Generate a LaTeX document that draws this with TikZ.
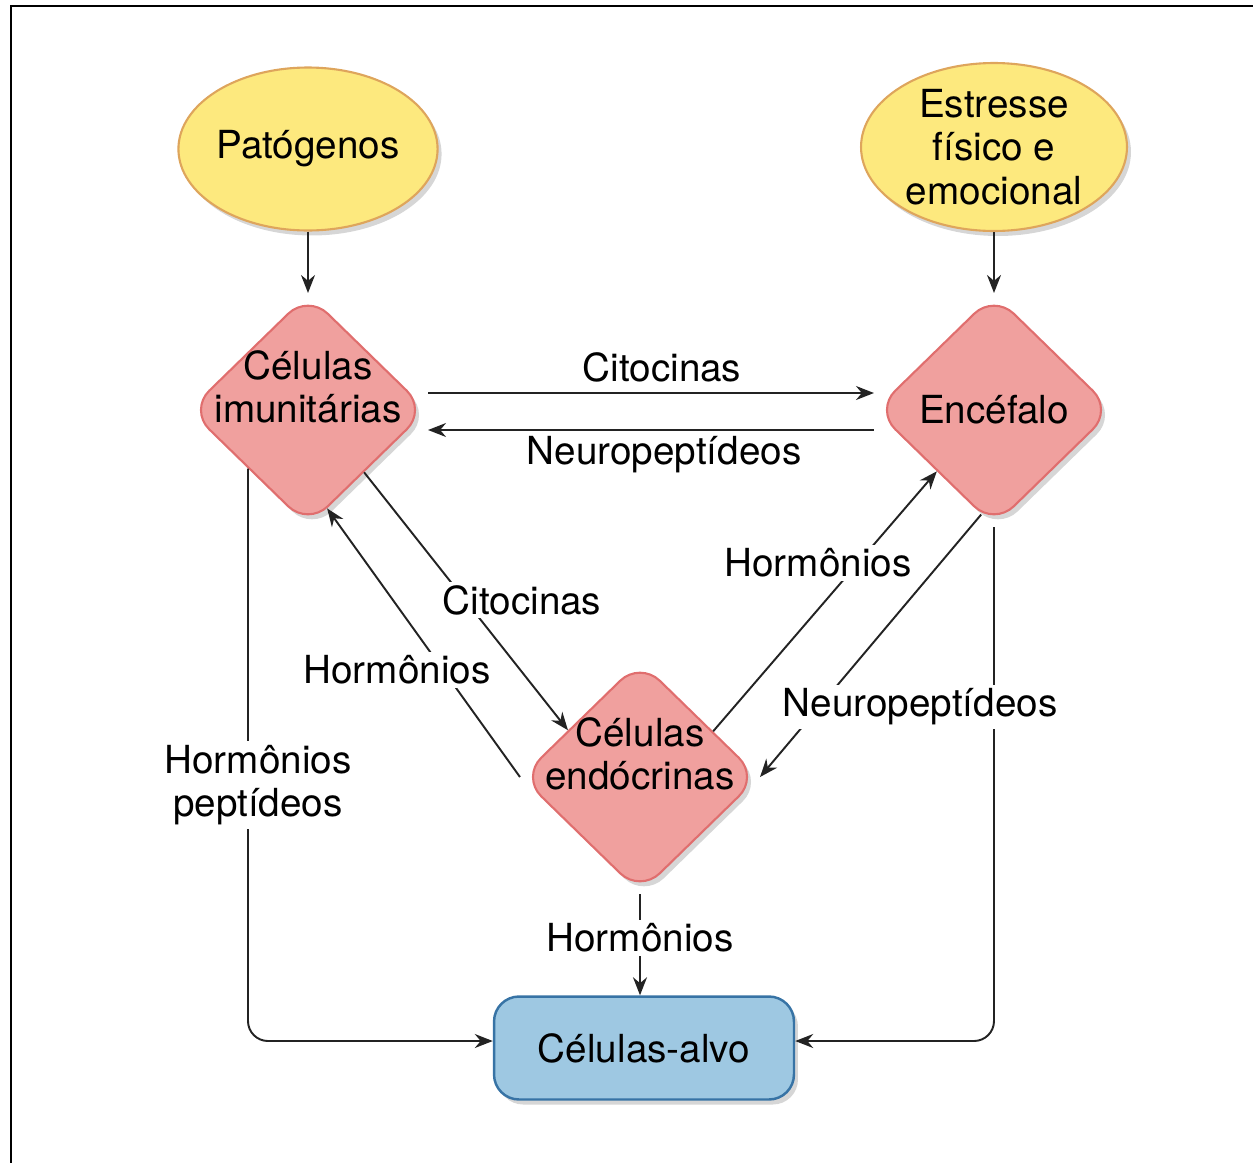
\documentclass[tikz,border=0pt]{standalone}
\usepackage{fontspec}
\setmainfont{TeX Gyre Heros}
\usetikzlibrary{shapes.geometric, arrows.meta, shadows}

\definecolor{jaune}{RGB}{253,233,126}
\definecolor{bordjaune}{RGB}{222,165,92}
\definecolor{rose}{RGB}{240,160,158}
\definecolor{bordrose}{RGB}{224,110,110}
\definecolor{bleu}{RGB}{158,200,226}
\definecolor{bordbleu}{RGB}{55,115,165}
\definecolor{trait}{RGB}{35,35,35}

\begin{document}
\begin{tikzpicture}[x=0.02cm, y=-0.02cm,
    font=\fontsize{22}{24.8}\selectfont,
    ombre/.style={drop shadow={shadow xshift=0.08cm, shadow yshift=-0.1cm, opacity=0.16, fill=black}},
    bulle/.style={ellipse, draw=bordjaune, line width=1.2pt, fill=jaune, inner sep=0pt, align=center, ombre},
    losange/.style={diamond, draw=bordrose, line width=1.2pt, fill=rose, inner sep=0pt,
      minimum width=4.76cm, minimum height=4.64cm, rounded corners=0.55cm, ombre},
    cible/.style={rectangle, draw=bordbleu, line width=1.4pt, fill=bleu, rounded corners=0.5cm,
      minimum width=6cm, minimum height=2.06cm, ombre},
    texte/.style={align=center, inner sep=1pt},
    fleche/.style={draw=trait, line width=1.1pt, -{Stealth[length=0.36cm, width=0.28cm]}},
    etiq/.style={fill=white, inner sep=2pt, align=center}]

  \useasboundingbox (0,0) rectangle (1253,1163);

  % Cadre
  \draw[line width=1.7pt] (1253,6) -- (11,6) -- (11,1163);

  % Causes
  \node[bulle, minimum width=4.96cm, minimum height=3.26cm] (pat) at (308,149) {Patógenos};
  \node[bulle, minimum width=5.32cm, minimum height=3.36cm] (est) at (994,147) {Estresse\\físico e\\emocional};

  % Losanges
  \foreach \nom/\x/\y in {imu/308/410, enc/994/410, endo/640/777}
    \node[losange] (\nom) at (\x,\y) {};
  \node[texte] (imutxt) at ([yshift=0.46cm]imu.center) {Células\\imunitárias};
  \node[texte] (enctxt) at (enc.center) {Encéfalo};
  \node[texte] (endotxt) at ([yshift=0.46cm]endo.center) {Células\\endócrinas};

  % Cible
  \node[cible] (alvo) at (644,1048) {Células-alvo};

  % Fleches
  \draw[fleche] (pat.south) -- (imu.north);
  \draw[fleche] (est.south) -- (enc.north);
  \draw[fleche] ([yshift=0.34cm]imu.east) -- ([yshift=0.34cm]enc.west);
  \draw[fleche] ([yshift=-0.4cm]enc.west) -- ([yshift=-0.4cm]imu.east);
  \draw[fleche] (imu.-48) -- (endo.147);
  \draw[fleche] (endo.west) -- (imu.-79);
  \draw[fleche] (endo.32) -- (enc.-133);
  \draw[fleche] (enc.-97) -- (endo.east);
  \draw[fleche] (endo.south) -- (endo.south |- alvo.north);
  \draw[fleche, rounded corners=0.4cm] (imu.south west) |- ([yshift=0.14cm]alvo.west);
  \draw[fleche, rounded corners=0.4cm] (enc.south) |- ([yshift=0.14cm]alvo.east);

  % Etiquettes
  \node (cito1) at (662,367) {Citocinas};
  \node (neuro1) at (664,455) {Neuropeptídeos};
  \foreach \nom/\x/\y/\texte in {cito2/522/600/Citocinas, horm1/397/670/Hormônios,
      horm2/818/563/Hormônios, neuro2/920/707/Neuropeptídeos,
      hpep/258/785/{Hormônios\\peptídeos}, horm3/640/938/Hormônios}
    \node[etiq] (\nom) at (\x,\y) {\texte};
\end{tikzpicture}
\end{document}
